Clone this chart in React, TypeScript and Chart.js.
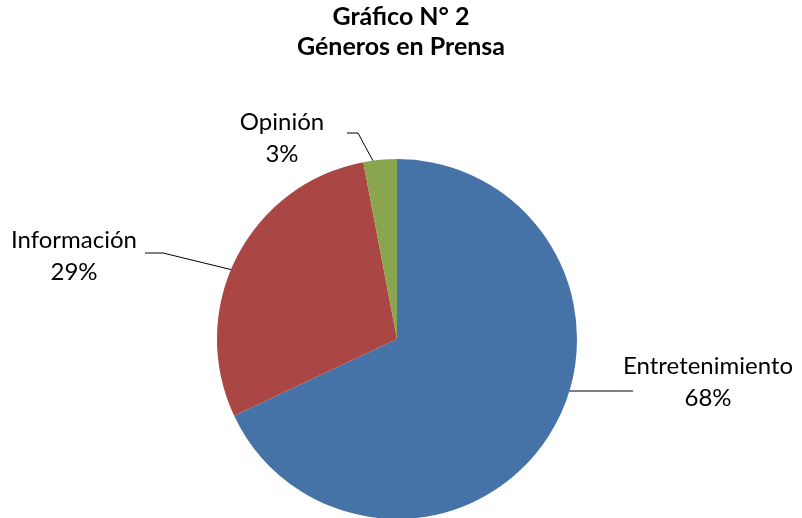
import React, { useEffect, useRef } from "react";
import { Chart, registerables } from "chart.js";

Chart.register(...registerables);

const titleLines = ["Gráfico N° 2", "Géneros en Prensa"];
const categories = ["Entretenimiento", "Información", "Opinión"];
const values = [68, 29, 3];
const percentLabels = ["68%", "29%", "3%"];
const colors = ["#4572A7", "#AA4643", "#89A54E"];

// label layout (relative to pie center, pixels): text center, leader touch angle (deg), elbow, line end
const labelLayout = [
  { tx: 311, ty: 43, touch: 16.8, elbow: [236, 52], end: [236, 52] },
  { tx: -323, ty: -83, touch: 202.7, elbow: [-234, -86], end: [-252, -86] },
  { tx: -115, ty: -201, touch: 262.3, elbow: [-39, -206], end: [-50, -206] },
];

const FONT = "Lato, 'Open Sans', sans-serif";

const labelPlugin = {
  id: "pieLabels",
  afterDraw(chart: any) {
    const ctx = chart.ctx;
    const meta = chart.getDatasetMeta(0);
    const arc = meta.data[0];
    if (!arc) return;
    const cx = arc.x;
    const cy = arc.y;
    const r = arc.outerRadius;
    ctx.save();
    // title
    ctx.fillStyle = "#000";
    ctx.textAlign = "center";
    ctx.textBaseline = "middle";
    ctx.font = `bold 25px ${FONT}`;
    titleLines.forEach((t, i) => ctx.fillText(t, chart.width / 2, 17 + i * 30));
    // labels
    ctx.font = `24px ${FONT}`;
    ctx.strokeStyle = "#000";
    ctx.lineWidth = 1;
    labelLayout.forEach((l, i) => {
      const a = (l.touch * Math.PI) / 180;
      const px = cx + r * Math.cos(a);
      const py = cy + r * Math.sin(a);
      ctx.beginPath();
      ctx.moveTo(px, py);
      ctx.lineTo(cx + l.elbow[0], cy + l.elbow[1]);
      ctx.lineTo(cx + l.end[0], cy + l.end[1]);
      ctx.stroke();
      ctx.fillText(categories[i], cx + l.tx, cy + l.ty - 16);
      ctx.fillText(percentLabels[i], cx + l.tx, cy + l.ty + 16);
    });
    ctx.restore();
  },
};

export default function App() {
  const ref = useRef<HTMLCanvasElement>(null);
  useEffect(() => {
    document.body.style.margin = "0";
    const chart = new Chart(ref.current!, {
      type: "pie",
      data: {
        labels: categories,
        datasets: [
          {
            data: values,
            backgroundColor: colors,
            borderWidth: 0,
          },
        ],
      },
      options: {
        responsive: false,
        animation: false,
        radius: 180,
        layout: { padding: { top: 160, bottom: 0, left: 0, right: 8 } },
        plugins: {
          legend: { display: false },
          tooltip: { enabled: false },
          title: { display: false },
        },
      } as any,
      plugins: [labelPlugin],
    });
    return () => chart.destroy();
  }, []);
  return (
    <div style={{ width: 802, height: 518, background: "#fff" }}>
      <canvas ref={ref} width={802} height={518} style={{ display: "block" }} />
    </div>
  );
}
